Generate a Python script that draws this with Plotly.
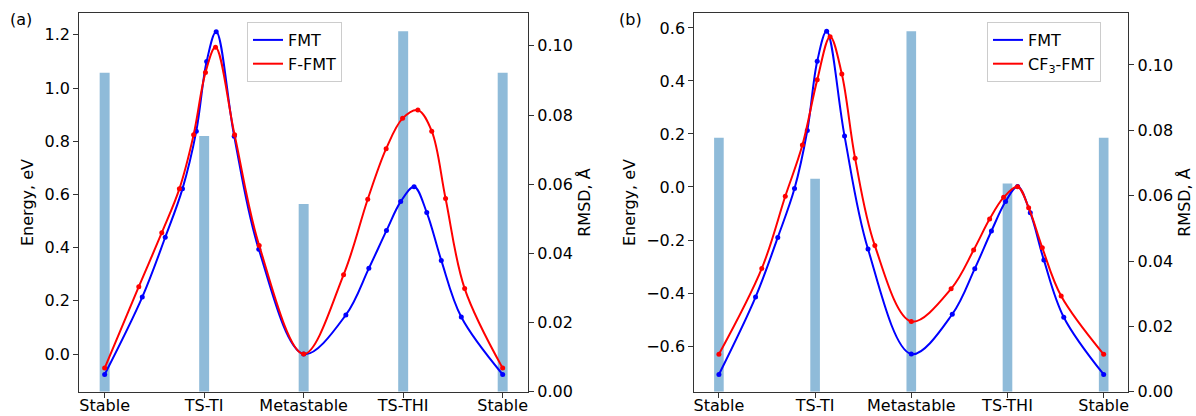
import plotly.graph_objects as go

# ---------------- data ----------------
categories = ["Stable", "TS-TI", "Metastable", "TS-THI", "Stable"]

# panel (a)
rmsd_a = [0.0922, 0.0739, 0.0543, 0.1042, 0.0922]
fmt_a_x = [0.0, 0.378, 0.609, 0.782, 0.921, 1.025, 1.121, 1.302, 1.549, 2.0,
           2.424, 2.655, 2.832, 2.975, 3.110, 3.237, 3.383, 3.584, 4.0]
fmt_a_y = [-0.077, 0.214, 0.439, 0.621, 0.838, 1.100, 1.212, 0.819, 0.394, 0.0,
           0.147, 0.322, 0.464, 0.573, 0.629, 0.532, 0.352, 0.139, -0.077]
ffmt_a_x = [0.0, 0.343, 0.574, 0.751, 0.894, 1.013, 1.114, 1.306, 1.553, 2.0,
            2.401, 2.644, 2.829, 2.994, 3.148, 3.287, 3.426, 3.618, 4.0]
ffmt_a_y = [-0.053, 0.253, 0.456, 0.621, 0.824, 1.058, 1.153, 0.824, 0.408, 0.0,
            0.298, 0.582, 0.772, 0.886, 0.917, 0.838, 0.585, 0.246, -0.053]

# panel (b)
rmsd_b = [0.0777, 0.0652, 0.1103, 0.0637, 0.0777]
fmt_b_x = [0.0, 0.381, 0.612, 0.786, 0.919, 1.022, 1.120, 1.306, 1.550, 2.0,
           2.426, 2.660, 2.833, 2.980, 3.105, 3.237, 3.378, 3.585, 4.0]
fmt_b_y = [-0.707, -0.415, -0.190, -0.006, 0.213, 0.474, 0.587, 0.192, -0.234, -0.630,
           -0.480, -0.308, -0.166, -0.055, 0.002, -0.097, -0.275, -0.491, -0.707]
cf3_b_x = [0.0, 0.446, 0.690, 0.868, 1.022, 1.156, 1.278, 1.416, 1.621, 2.0,
           2.414, 2.648, 2.814, 2.960, 3.105, 3.220, 3.362, 3.558, 4.0]
cf3_b_y = [-0.631, -0.307, -0.035, 0.158, 0.404, 0.567, 0.426, 0.108, -0.221, -0.507,
           -0.384, -0.238, -0.121, -0.039, 0.001, -0.078, -0.229, -0.411, -0.631]

positions = list(range(len(categories)))

# ---------------- style ----------------
FONT = "DejaVu Sans"
FS = 16
BLUE = "#0000ff"
RED = "#ff0000"
BAR = "rgba(31,119,180,0.5)"
SPINE = "#333333"

fig = go.Figure()


def add_panel(xa, ybar, yline, rmsd, series, legend):
    fig.add_trace(go.Bar(x=positions, y=rmsd, width=0.1, marker_color=BAR,
                         marker_line_width=0, xaxis=xa, yaxis=ybar,
                         showlegend=False, hoverinfo="skip"))
    for name, xs, ys, col in series:
        fig.add_trace(go.Scatter(x=xs, y=ys, mode="lines", name=name,
                                 line=dict(color=col, width=2, shape="spline", smoothing=1.0),
                                 xaxis=xa, yaxis=yline, legend=legend))
        fig.add_trace(go.Scatter(x=xs, y=ys, mode="markers", showlegend=False,
                                 marker=dict(color=col, size=5),
                                 xaxis=xa, yaxis=yline))


add_panel("x", "y", "y2", rmsd_a,
          [("FMT", fmt_a_x, fmt_a_y, BLUE), ("F-FMT", ffmt_a_x, ffmt_a_y, RED)], "legend")
add_panel("x2", "y3", "y4", rmsd_b,
          [("FMT", fmt_b_x, fmt_b_y, BLUE), ("CF<sub>3</sub>-FMT", cf3_b_x, cf3_b_y, RED)], "legend2")

ydom = [0.0584, 0.968]
common_axis = dict(showgrid=False, zeroline=False, showline=True, linecolor=SPINE,
                   linewidth=1, ticks="outside", ticklen=5, tickcolor=SPINE,
                   automargin=False,
                   tickfont=dict(family=FONT, size=FS, color="black"))

xcommon = dict(common_axis, range=[-0.256, 4.256], tickmode="array",
               tickvals=positions, ticktext=categories, mirror=True,
               ticklabelstandoff=-6)

fig.update_layout(
    width=1196, height=416,
    margin=dict(l=0, r=0, t=0, b=0),
    paper_bgcolor="white", plot_bgcolor="white",
    font=dict(family=FONT, size=FS, color="black"),
    barmode="overlay",
    xaxis=dict(xcommon, domain=[0.0662, 0.4416], anchor="y"),
    yaxis=dict(common_axis, domain=ydom, anchor="x", side="right",
               range=[0, 0.1094], tickformat=".2f", dtick=0.02,
               title=dict(text="RMSD, Å", standoff=6, font=dict(family=FONT, size=FS))),
    yaxis2=dict(common_axis, overlaying="y", anchor="x", side="left",
                range=[-0.1417, 1.281], tickformat=".1f", dtick=0.2,
                title=dict(text="Energy, eV", standoff=6, font=dict(family=FONT, size=FS))),
    xaxis2=dict(xcommon, domain=[0.5805, 0.9434], anchor="y3"),
    yaxis3=dict(common_axis, domain=ydom, anchor="x2", side="right",
                range=[0, 0.1158], tickformat=".2f", dtick=0.02,
                title=dict(text="RMSD, Å", standoff=6, font=dict(family=FONT, size=FS))),
    yaxis4=dict(common_axis, overlaying="y3", anchor="x2", side="left",
                range=[-0.772, 0.655], tickformat=".1f", dtick=0.2,
                title=dict(text="Energy, eV", standoff=6, font=dict(family=FONT, size=FS))),
    legend=dict(x=247 / 1196, y=1 - 22 / 416, xanchor="left", yanchor="top",
                bgcolor="rgba(255,255,255,0.8)", bordercolor="#cccccc", borderwidth=1,
                font=dict(family=FONT, size=FS)),
    legend2=dict(x=987 / 1196, y=1 - 22 / 416, xanchor="left", yanchor="top",
                 bgcolor="rgba(255,255,255,0.8)", bordercolor="#cccccc", borderwidth=1,
                 font=dict(family=FONT, size=FS)),
    annotations=[
        dict(text="(a)", x=8 / 1196, y=1 - 8 / 416, xref="paper", yref="paper",
             xanchor="left", yanchor="top", showarrow=False, font=dict(family=FONT, size=FS)),
        dict(text="(b)", x=617 / 1196, y=1 - 8 / 416, xref="paper", yref="paper",
             xanchor="left", yanchor="top", showarrow=False, font=dict(family=FONT, size=FS)),
    ],
)

fig.write_html("out.html")
